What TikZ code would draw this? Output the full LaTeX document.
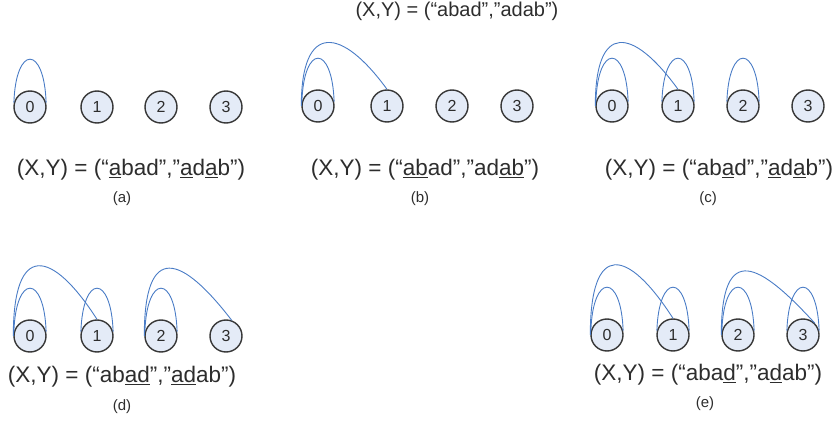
\documentclass[tikz,border=0pt]{standalone}
\usepackage{fontspec}
\setmainfont{Liberation Sans}
\usepackage{tikz}
\definecolor{nodefill}{RGB}{228,235,247}
\definecolor{nodeline}{RGB}{55,55,55}
\definecolor{arcblue}{RGB}{74,124,198}
\definecolor{textgray}{RGB}{45,45,45}

\begin{document}
\begin{tikzpicture}[x=1pt, y=1pt,
    state/.style={circle, draw=nodeline, line width=1.4pt, fill=nodefill, minimum size=32pt, inner sep=0pt, font=\fontsize{16}{16}\selectfont, text=textgray},
    link/.style={draw=arcblue, line width=0.9pt},
    pair/.style={font=\fontsize{22.5}{27}\selectfont, text=textgray, inner sep=0pt},
    tag/.style={font=\fontsize{15}{17}\selectfont, text=textgray, inner sep=0pt}
]
\useasboundingbox (0,0) rectangle (839,-425);

\node[pair, font=\fontsize{20}{24}\selectfont] (title) at (457,-11) {(X,Y) = (“abad”,”adab”)};

% (a)
\foreach \i/\x in {0/30,1/97,2/161,3/226}
    \node[state] (a\i) at (\x,-107) {\i};
\draw[link] (a0.165) .. controls +(2,58) and +(-2,58) .. (a0.15);
\node[pair] (pa) at (131,-170) {(X,Y) = (“\underline{a}bad”,”\underline{a}d\underline{a}b”)};
\node[tag] (la) at (122,-199) {(a)};

% (b)
\foreach \i/\x in {0/318,1/387,2/452,3/517}
    \node[state] (b\i) at (\x,-106) {\i};
\draw[link] (b0.165) .. controls +(2,58) and +(-2,58) .. (b0.15);
\draw[link] (b0.west) .. controls +(0,85) and +(-45,62) .. (b1.north);
\node[pair] (pb) at (425,-170) {(X,Y) = (“\underline{ab}ad”,”ad\underline{ab}”)};
\node[tag] (lb) at (420,-199) {(b)};

% (c)
\foreach \i/\x in {0/612,1/678,2/743,3/808}
    \node[state] (c\i) at (\x,-106) {\i};
\draw[link] (c0.165) .. controls +(2,58) and +(-2,58) .. (c0.15);
\draw[link] (c0.west) .. controls +(0,85) and +(-45,62) .. (c1.north);
\draw[link] (c1.165) .. controls +(2,58) and +(-2,58) .. (c1.15);
\draw[link] (c2.165) .. controls +(2,58) and +(-2,58) .. (c2.15);
\node[pair] (pc) at (719,-170) {(X,Y) = (“ab\underline{a}d”,”\underline{a}d\underline{a}b”)};
\node[tag] (lc) at (708,-199) {(c)};

% (d)
\foreach \i/\x in {0/30,1/97,2/161,3/226}
    \node[state] (d\i) at (\x,-336) {\i};
\draw[link] (d0.165) .. controls +(2,58) and +(-2,58) .. (d0.15);
\draw[link] (d0.west) .. controls +(0,95) and +(-45,70) .. (d1.north);
\draw[link] (d1.165) .. controls +(2,58) and +(-2,58) .. (d1.15);
\draw[link] (d2.165) .. controls +(2,58) and +(-2,58) .. (d2.15);
\draw[link] (d2.west) .. controls +(0,95) and +(-50,65) .. (d3.70);
\node[pair] (pd) at (122,-377) {(X,Y) = (“ab\underline{ad}”,”\underline{ad}ab”)};
\node[tag] (ld) at (122,-407) {(d)};

% (e)
\foreach \i/\x in {0/607,1/673,2/738,3/803}
    \node[state] (e\i) at (\x,-335) {\i};
\draw[link] (e0.165) .. controls +(2,58) and +(-2,58) .. (e0.15);
\draw[link] (e0.west) .. controls +(0,95) and +(-45,70) .. (e1.north);
\draw[link] (e1.165) .. controls +(2,58) and +(-2,58) .. (e1.15);
\draw[link] (e2.165) .. controls +(2,58) and +(-2,58) .. (e2.15);
\draw[link] (e2.west) .. controls +(0,95) and +(-55,60) .. (e3.45);
\draw[link] (e3.165) .. controls +(2,58) and +(-2,58) .. (e3.15);
\node[pair] (pe) at (708,-375) {(X,Y) = (“aba\underline{d}”,”a\underline{d}ab”)};
\node[tag] (le) at (705,-404) {(e)};
\end{tikzpicture}
\end{document}
